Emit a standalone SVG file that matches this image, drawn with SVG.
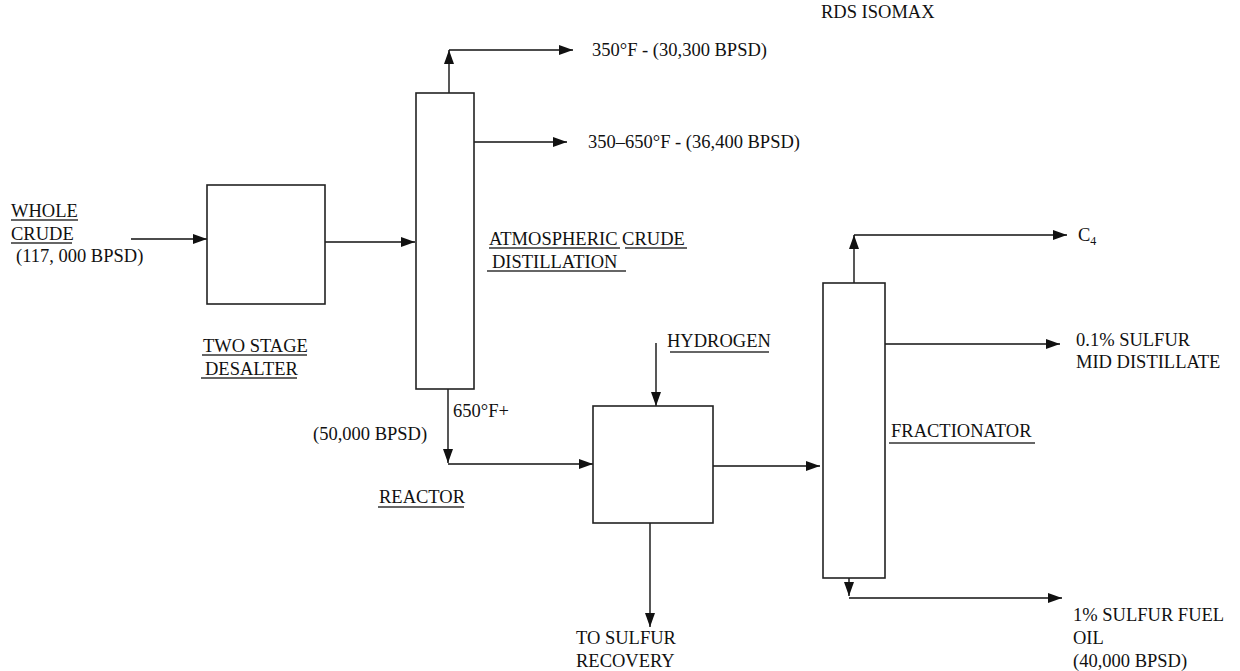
<svg xmlns="http://www.w3.org/2000/svg" width="1240" height="671" viewBox="0 0 1240 671" font-family="'Liberation Serif', 'Times New Roman', 'DejaVu Serif', serif">
<style>
text{font-family:'Liberation Serif','Times New Roman','DejaVu Serif',serif;font-size:18.5px;fill:#111}
.box{fill:#fff;stroke:#222;stroke-width:1.6}
.ln{fill:none;stroke:#111;stroke-width:1.4}
.ul{stroke:#333;stroke-width:1.3}
</style>
<defs>
<marker id="ah" viewBox="0 0 14 10" refX="14" refY="5" markerWidth="14" markerHeight="10" markerUnits="userSpaceOnUse" orient="auto">
<path d="M0,0 L14,5 L0,10 z" fill="#111"/>
</marker>
</defs>
<rect width="1240" height="671" fill="#fff"/>

<g id="connectors">
<path class="ln" d="M131,239 H207" marker-end="url(#ah)"/>
<path class="ln" d="M325,242 H415" marker-end="url(#ah)"/>
<path class="ln" d="M449,93 V50" marker-end="url(#ah)"/>
<path class="ln" d="M449,50 H573" marker-end="url(#ah)"/>
<path class="ln" d="M474,142 H567" marker-end="url(#ah)"/>
<path class="ln" d="M448,389 V463" marker-end="url(#ah)"/>
<path class="ln" d="M448,464 H593" marker-end="url(#ah)"/>
<path class="ln" d="M656,343 V406" marker-end="url(#ah)"/>
<path class="ln" d="M713,466 H820" marker-end="url(#ah)"/>
<path class="ln" d="M650,523 V627" marker-end="url(#ah)"/>
<path class="ln" d="M854,283 V235" marker-end="url(#ah)"/>
<path class="ln" d="M854,235 H1067" marker-end="url(#ah)"/>
<path class="ln" d="M885,344 H1060" marker-end="url(#ah)"/>
<path class="ln" d="M849,578 V596" marker-end="url(#ah)"/>
<path class="ln" d="M849,598 H1062" marker-end="url(#ah)"/>
</g>

<g id="desalter">
<rect class="box" x="207" y="185" width="118" height="119"/>
<text x="203" y="352">TWO STAGE</text>
<line class="ul" x1="202" y1="355" x2="307" y2="355"/>
<text x="205" y="375">DESALTER</text>
<line class="ul" x1="201" y1="378" x2="297" y2="378"/>
</g>

<g id="atmospheric-column">
<rect class="box" x="416" y="93" width="58" height="296"/>
<text x="489" y="245">ATMOSPHERIC CRUDE</text>
<line class="ul" x1="489" y1="248" x2="620" y2="248"/>
<line class="ul" x1="625" y1="248" x2="687" y2="248"/>
<text x="492" y="268">DISTILLATION</text>
<line class="ul" x1="487" y1="271" x2="626" y2="271"/>
</g>

<g id="reactor">
<rect class="box" x="593" y="406" width="120" height="117"/>
<text x="379" y="503">REACTOR</text>
<line class="ul" x1="378" y1="507" x2="464" y2="507"/>
</g>

<g id="fractionator">
<rect class="box" x="823" y="283" width="62" height="295"/>
<text x="891" y="437">FRACTIONATOR</text>
<line class="ul" x1="889" y1="443" x2="1035" y2="443"/>
</g>

<g id="labels">
<text x="821" y="18">RDS ISOMAX</text>
<text x="11" y="217">WHOLE</text>
<line class="ul" x1="11" y1="220" x2="78" y2="220"/>
<text x="11" y="240">CRUDE</text>
<line class="ul" x1="11" y1="243" x2="72" y2="243"/>
<text x="16" y="262">(117, 000 BPSD)</text>
<text x="592" y="56">350°F - (30,300 BPSD)</text>
<text x="588" y="148">350–650°F - (36,400 BPSD)</text>
<text x="453" y="417">650°F+</text>
<text x="313" y="440">(50,000 BPSD)</text>
<text x="667" y="347">HYDROGEN</text>
<line class="ul" x1="670" y1="352" x2="769" y2="352"/>
<text x="576" y="644">TO SULFUR</text>
<text x="576" y="667">RECOVERY</text>
<text x="1078" y="241">C<tspan font-size="12" dy="4">4</tspan></text>
<text x="1076" y="346">0.1% SULFUR</text>
<text x="1076" y="368">MID DISTILLATE</text>
<text x="1073" y="621">1% SULFUR FUEL</text>
<text x="1073" y="644">OIL</text>
<text x="1073" y="667">(40,000 BPSD)</text>
</g>
</svg>
